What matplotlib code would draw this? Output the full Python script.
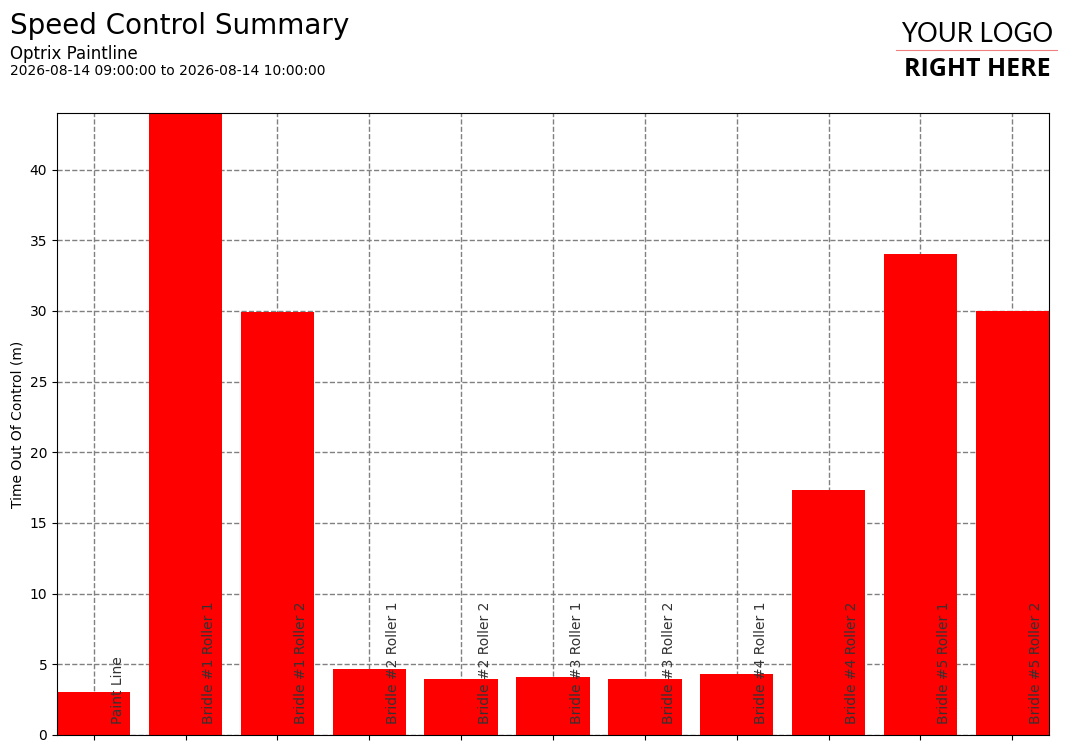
import matplotlib
matplotlib.use("Agg")
import matplotlib.pyplot as plt
from matplotlib.lines import Line2D

categories = ["Paint Line", "Bridle #1 Roller 1", "Bridle #1 Roller 2",
              "Bridle #2 Roller 1", "Bridle #2 Roller 2", "Bridle #3 Roller 1",
              "Bridle #3 Roller 2", "Bridle #4 Roller 1", "Bridle #4 Roller 2",
              "Bridle #5 Roller 1", "Bridle #5 Roller 2"]
values = [3.04, 44.0, 29.9, 4.66, 3.96, 4.1, 3.96, 4.31, 17.3, 34.0, 30.0]
y_ticks = [0, 5, 10, 15, 20, 25, 30, 35, 40]

fig = plt.figure(figsize=(10.73, 7.53), dpi=100)
ax = fig.add_axes([57/1073, 18/753, (1049-57)/1073, (735-113)/753])

x = list(range(len(categories)))
ax.bar(x, values, width=0.8, color="#ff0000", zorder=2)
ax.set_xlim(-0.4, len(categories) - 0.6)
ax.set_ylim(0, max(values))
ax.set_yticks(y_ticks)
ax.set_xticks(x)
ax.set_xticklabels([])
ax.grid(True, color="gray", linestyle="--", linewidth=1, zorder=0)
ax.set_axisbelow(True)
ax.set_ylabel("Time Out Of Control (m)", fontsize=10)
ax.tick_params(labelsize=10)

for xi, name in zip(x, categories):
    ax.text(xi + 0.26, 0.8, name, rotation=90, ha="center", va="bottom",
            fontsize=10, color="#333333", zorder=3)

fig.text(10/1073, 1 - 12/753, "Speed Control Summary", fontsize=20, va="top", ha="left")
fig.text(10/1073, 1 - 45/753, "Optrix Paintline", fontsize=12, va="top", ha="left")
fig.text(10/1073, 1 - 64/753, "2026-08-14 09:00:00 to 2026-08-14 10:00:00", fontsize=10, va="top", ha="left")

# logo
fig.text(977/1073, 1 - 34/753, "YOUR LOGO", fontsize=18.5, ha="center", va="center",
         family=["Lato", "DejaVu Sans"])
fig.add_artist(Line2D([896/1073, 1057/1073], [1 - 50/753, 1 - 50/753],
                      color="#f08080", linewidth=0.8, transform=fig.transFigure))
fig.text(977/1073, 1 - 70/753, "RIGHT HERE", fontsize=18, ha="center", va="center",
         fontweight="bold", family=["Open Sans", "DejaVu Sans"], fontstretch="condensed")

fig.savefig("out.png", dpi=100)
